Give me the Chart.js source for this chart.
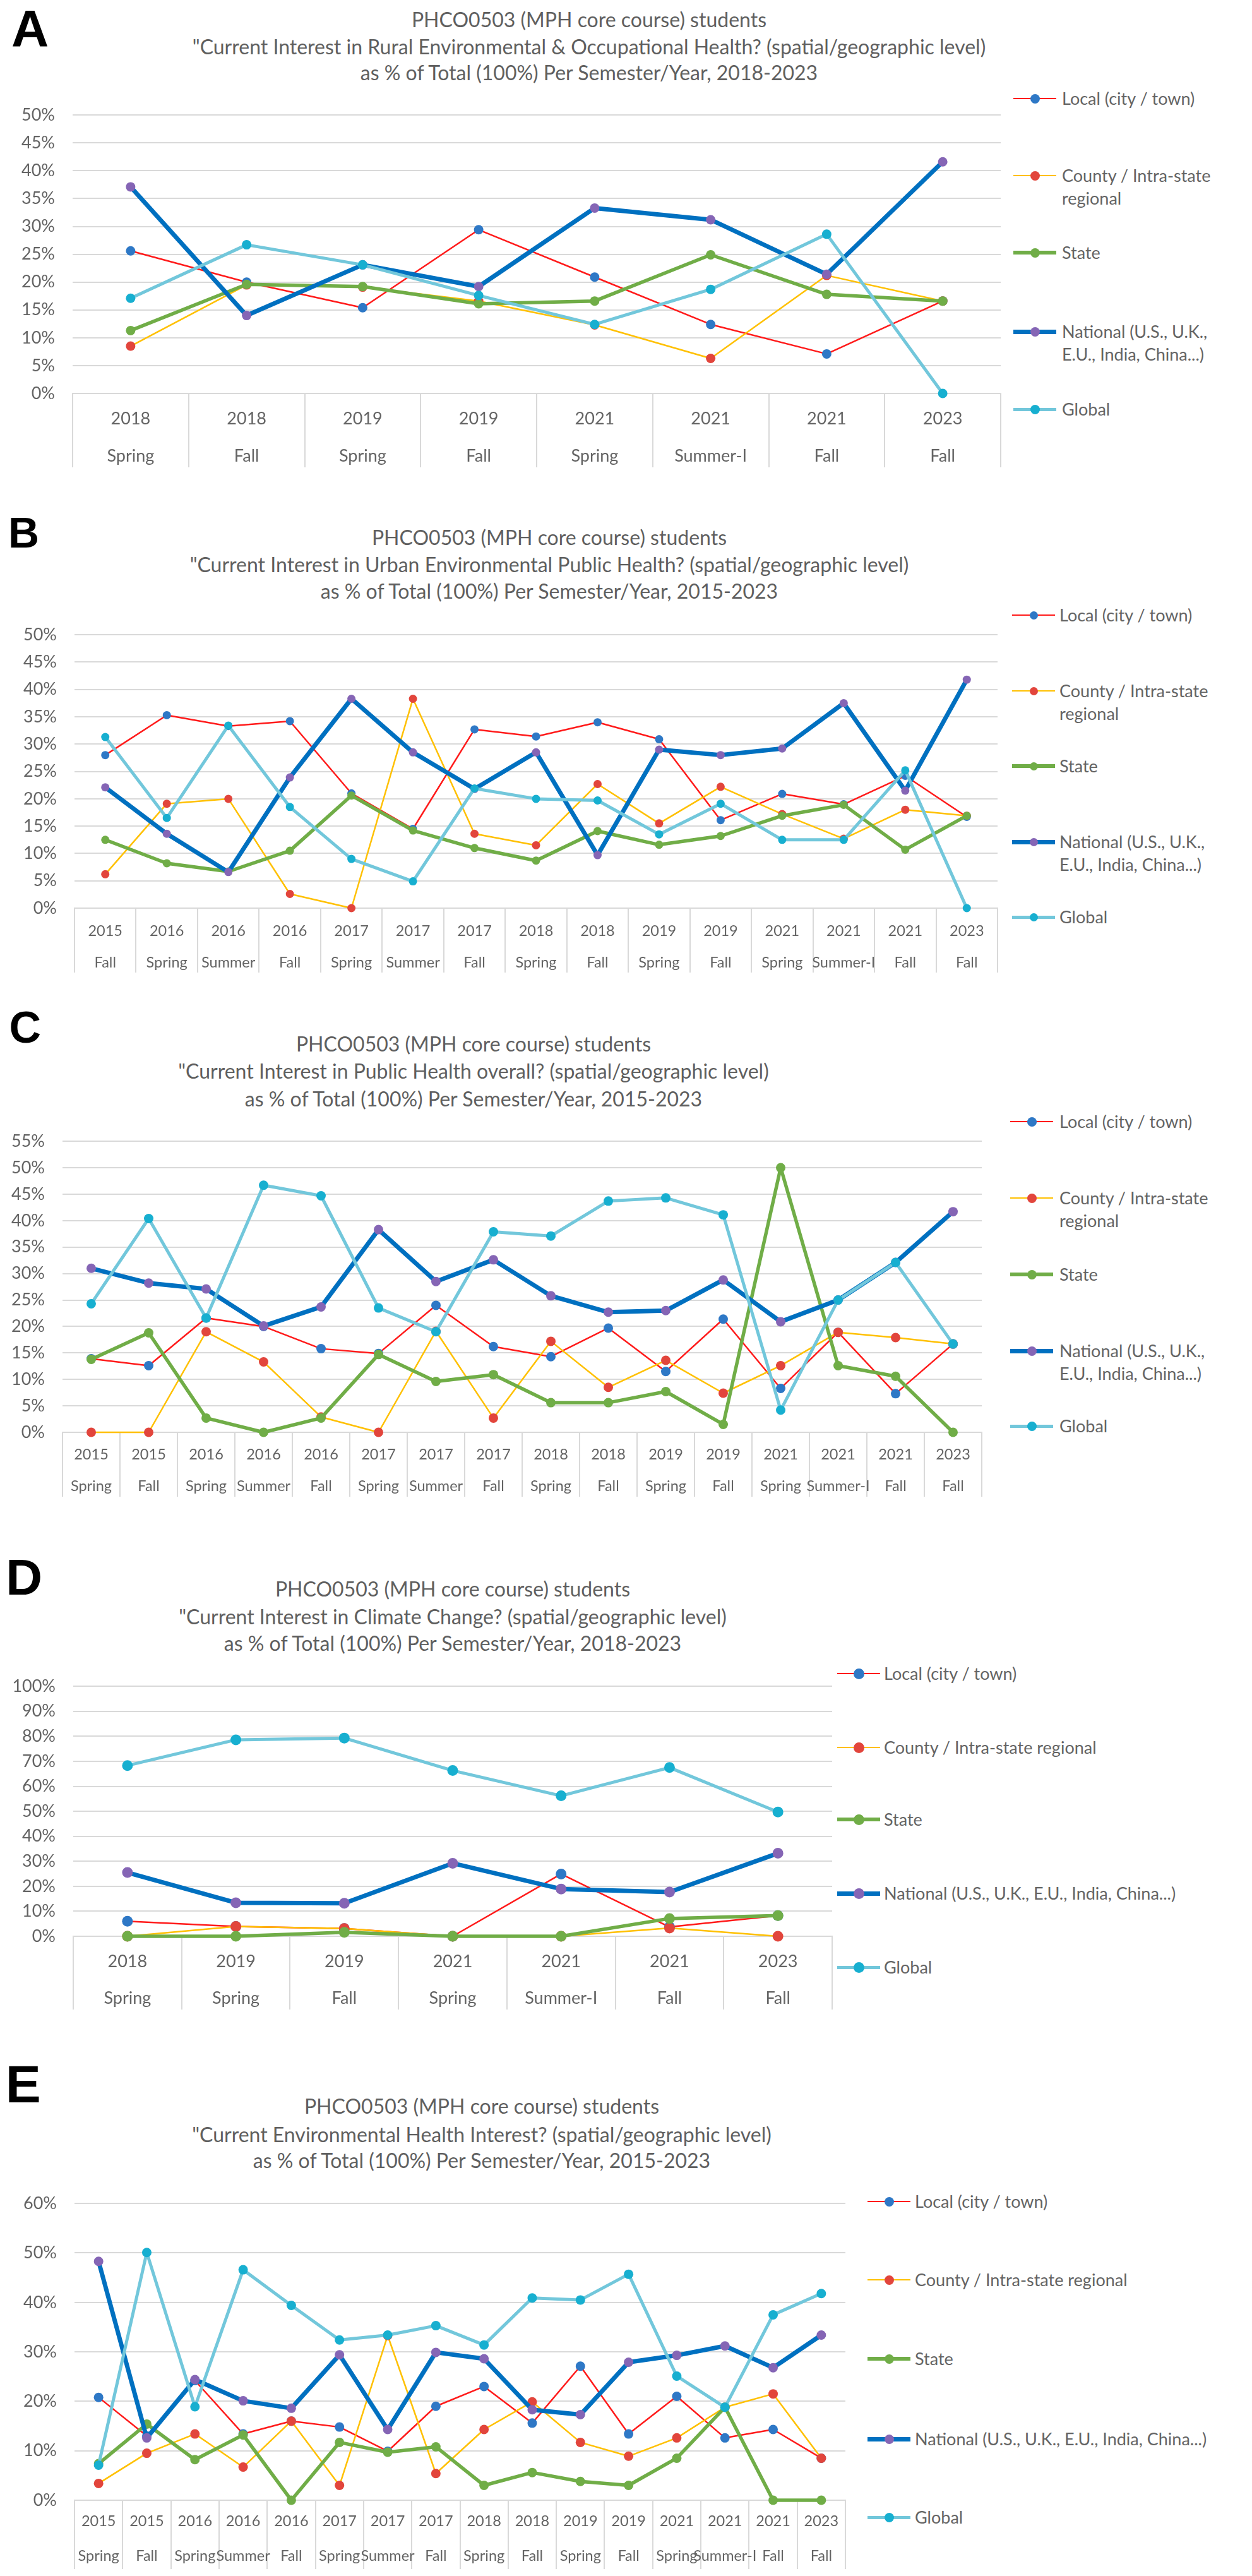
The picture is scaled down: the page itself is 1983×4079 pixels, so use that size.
<!DOCTYPE html>
<html>
<head>
<meta charset="utf-8">
<script src="https://cdn.jsdelivr.net/npm/chart.js@4.4.1/dist/chart.umd.min.js"></script>
<style>
  body { margin: 0; background: #fff; }
  #page { position: relative; width: 1983px; height: 4079px; overflow: hidden; font-family: Lato, sans-serif; color: #646464; }
  .letter { position: absolute; font-family: 'Liberation Sans', Arial, sans-serif; font-weight: bold; color: #000; line-height: 1; }
  .title { position: absolute; width: 1700px; text-align: center; font-size: 32px; line-height: 42px; color: #5f5f5f; white-space: nowrap; }
  .leg { position: absolute; height: 36px; }
  .leg .ln { position: absolute; left: 0; width: 68px; }
  .leg .dot { position: absolute; border-radius: 50%; }
  .leg .tx { position: absolute; font-size: 27px; line-height: 36px; white-space: nowrap; color: #646464; }
  canvas { position: absolute; left: 0; }
</style>
</head>
<body>
<div id="page"></div>
<script>
// ---- data (percent of total) ----
const catsA = [['2018','Spring'],['2018','Fall'],['2019','Spring'],['2019','Fall'],['2021','Spring'],['2021','Summer-I'],['2021','Fall'],['2023','Fall']];
const localA    = [25.6, 20.0, 15.4, 29.4, 20.9, 12.4, 7.1, 16.6];
const countyA   = [8.5, 19.5, 19.1, 16.6, 12.3, 6.3, 21.2, 16.6];
const stateA    = [11.3, 19.6, 19.2, 16.1, 16.6, 24.9, 17.8, 16.6];
const nationalA = [37.1, 14.0, 23.1, 19.2, 33.3, 31.2, 21.4, 41.6];
const globalA   = [17.1, 26.7, 23.1, 17.6, 12.4, 18.7, 28.6, 0];

const catsB = [['2015','Fall'],['2016','Spring'],['2016','Summer'],['2016','Fall'],['2017','Spring'],['2017','Summer'],['2017','Fall'],['2018','Spring'],['2018','Fall'],['2019','Spring'],['2019','Fall'],['2021','Spring'],['2021','Summer-I'],['2021','Fall'],['2023','Fall']];
const localB    = [28.0, 35.3, 33.3, 34.2, 21.0, 14.5, 32.7, 31.4, 34.0, 30.9, 16.1, 20.9, 19.0, 24.2, 16.7];
const countyB   = [6.2, 19.1, 20.0, 2.6, 0, 38.3, 13.6, 11.5, 22.7, 15.5, 22.2, 17.2, 12.7, 18.0, 16.9];
const stateB    = [12.5, 8.2, 6.7, 10.5, 20.6, 14.2, 11.0, 8.7, 14.1, 11.6, 13.2, 16.9, 18.9, 10.7, 16.9];
const nationalB = [22.1, 13.6, 6.6, 23.9, 38.3, 28.5, 21.8, 28.5, 9.7, 29.0, 28.0, 29.2, 37.5, 21.5, 41.8];
const globalB   = [31.3, 16.5, 33.4, 18.5, 9.0, 4.9, 21.9, 20.0, 19.7, 13.5, 19.1, 12.5, 12.5, 25.2, 0];

const catsC = [['2015','Spring'],['2015','Fall'],['2016','Spring'],['2016','Summer'],['2016','Fall'],['2017','Spring'],['2017','Summer'],['2017','Fall'],['2018','Spring'],['2018','Fall'],['2019','Spring'],['2019','Fall'],['2021','Spring'],['2021','Summer-I'],['2021','Fall'],['2023','Fall']];
const localC    = [13.9, 12.6, 21.6, 20.0, 15.8, 14.9, 24.0, 16.2, 14.3, 19.7, 11.5, 21.4, 8.3, 18.9, 7.3, 16.7];
const countyC   = [0, 0, 19.0, 13.3, 2.9, 0, 19.1, 2.7, 17.2, 8.5, 13.6, 7.4, 12.6, 18.9, 17.9, 16.7];
const stateC    = [13.8, 18.8, 2.7, 0, 2.7, 14.7, 9.6, 10.9, 5.6, 5.6, 7.7, 1.5, 50.0, 12.6, 10.6, 0];
const nationalC = [31.0, 28.2, 27.1, 20.1, 23.7, 38.3, 28.5, 32.6, 25.8, 22.7, 23.0, 28.8, 20.9, 25.0, 32.1, 41.7];
const globalC   = [24.3, 40.4, 21.6, 46.7, 44.7, 23.5, 19.0, 37.9, 37.1, 43.7, 44.3, 41.1, 4.2, 25.0, 32.1, 16.7];

const catsD = [['2018','Spring'],['2019','Spring'],['2019','Fall'],['2021','Spring'],['2021','Summer-I'],['2021','Fall'],['2023','Fall']];
const localD    = [6.0, 3.9, 3.1, 0, 24.9, 3.7, 8.3];
const countyD   = [0, 3.9, 3.1, 0, 0, 3.3, 0];
const stateD    = [0, 0, 1.6, 0, 0, 7.1, 8.3];
const nationalD = [25.5, 13.4, 13.2, 29.2, 18.9, 17.7, 33.2];
const globalD   = [68.3, 78.6, 79.3, 66.3, 56.2, 67.5, 49.7];

const catsE = [['2015','Spring'],['2015','Fall'],['2016','Spring'],['2016','Summer'],['2016','Fall'],['2017','Spring'],['2017','Summer'],['2017','Fall'],['2018','Spring'],['2018','Fall'],['2019','Spring'],['2019','Fall'],['2021','Spring'],['2021','Summer-I'],['2021','Fall'],['2023','Fall']];
const localE    = [20.8, 13.0, 24.2, 13.4, 16.0, 14.8, 9.9, 19.0, 23.0, 15.6, 27.1, 13.4, 21.0, 12.6, 14.3, 8.5];
const countyE   = [3.4, 9.5, 13.4, 6.7, 16.0, 3.0, 33.3, 5.4, 14.3, 19.9, 11.7, 8.9, 12.6, 18.8, 21.5, 8.5];
const stateE    = [7.4, 15.4, 8.2, 13.2, 0, 11.7, 9.7, 10.8, 3.0, 5.6, 3.8, 3.0, 8.5, 18.8, 0, 0];
const nationalE = [48.3, 12.6, 24.4, 20.1, 18.6, 29.4, 14.3, 29.9, 28.6, 18.3, 17.3, 27.9, 29.3, 31.2, 26.8, 33.4];
const globalE   = [7.1, 50.1, 18.9, 46.6, 39.4, 32.4, 33.4, 35.3, 31.4, 40.9, 40.5, 45.7, 25.1, 18.8, 37.5, 41.8];

const seriesNames = ['Local (city / town)', 'County / Intra-state regional', 'State', 'National (U.S., U.K., E.U., India, China...)', 'Global'];
const wrappedNames = ['Local (city / town)', 'County / Intra-state<br>regional', 'State', 'National (U.S., U.K.,<br>E.U., India, China...)', 'Global'];

// ---- styles ----
const lineColors  = ['#ff1a1a', '#ffc000', '#70ad47', '#0070c0', '#72c7db'];
const pointColors = ['#2e78c6', '#e2453c', '#70ad47', '#8565b5', '#17afd0'];
const lineWidths  = [2.5, 2.5, 5.5, 7, 5];
const gridColor = '#d9d9d9';
const textColor = '#646464';

const mainTitle = 'PHCO0503 (MPH core course) students';

const panels = [
  { letter: 'A', letterX: 18, letterTop: 15, letterSize: 82, bearing: 0,
    titleX: 933, titleY: [31, 74, 115],
    title: [mainTitle, '"Current Interest in Rural Environmental & Occupational Health? (spatial/geographic level)', 'as % of Total (100%) Per Semester/Year, 2018-2023'],
    left: 115, right: 1585, top: 168, bottom: 623, boxBottom: 740,
    yMax: 50, yStep: 5, labelSize: 27, firstLine: 40, lineGap: 59,
    legX: 1605, legTextX: 1682, legY: [156, 278, 400, 525, 648], legNames: wrappedNames,
    cats: catsA, series: [localA, countyA, stateA, nationalA, globalA], r: 7.5 },
  { letter: 'B', letterX: 18, letterTop: 818, letterSize: 68, bearing: 0.073,
    titleX: 870, titleY: [851, 894, 936],
    title: [mainTitle, '"Current Interest in Urban Environmental Public Health? (spatial/geographic level)', 'as % of Total (100%) Per Semester/Year, 2015-2023'],
    left: 118, right: 1580, top: 991, bottom: 1438, boxBottom: 1540,
    yMax: 50, yStep: 5, labelSize: 23.5, firstLine: 36, lineGap: 50,
    legX: 1603, legTextX: 1678, legY: [974, 1094, 1213, 1333, 1452], legNames: wrappedNames,
    cats: catsB, series: [localB, countyB, stateB, nationalB, globalB], r: 6.5 },
  { letter: 'C', letterX: 18, letterTop: 1601, letterSize: 70, bearing: 0.05,
    titleX: 750, titleY: [1653, 1696, 1740],
    title: [mainTitle, '"Current Interest in Public Health overall? (spatial/geographic level)', 'as % of Total (100%) Per Semester/Year, 2015-2023'],
    left: 99, right: 1555, top: 1793, bottom: 2268, boxBottom: 2370,
    yMax: 55, yStep: 5, labelSize: 23.5, firstLine: 35, lineGap: 50,
    legX: 1600, legTextX: 1678, legY: [1776, 1897, 2018, 2139, 2258], legNames: wrappedNames,
    cats: catsC, series: [localC, countyC, stateC, nationalC, globalC], r: 7.5 },
  { letter: 'D', letterX: 15, letterTop: 2468, letterSize: 80, bearing: 0.073,
    titleX: 717, titleY: [2516, 2560, 2602],
    title: [mainTitle, '"Current Interest in Climate Change? (spatial/geographic level)', 'as % of Total (100%) Per Semester/Year, 2018-2023'],
    left: 116, right: 1318, top: 2656, bottom: 3066, boxBottom: 3182,
    yMax: 100, yStep: 10, labelSize: 27, firstLine: 40, lineGap: 58,
    legX: 1326, legTextX: 1400, legY: [2650, 2767, 2881, 2998, 3115], legNames: seriesNames,
    cats: catsD, series: [localD, countyD, stateD, nationalD, globalD], r: 8.5 },
  { letter: 'E', letterX: 15, letterTop: 3269, letterSize: 84, bearing: 0.073,
    titleX: 763, titleY: [3335, 3380, 3421],
    title: [mainTitle, '"Current Environmental Health Interest? (spatial/geographic level)', 'as % of Total (100%) Per Semester/Year, 2015-2023'],
    left: 118, right: 1339, top: 3475, bottom: 3959, boxBottom: 4068,
    yMax: 60, yStep: 10, labelSize: 23.5, firstLine: 33, lineGap: 55,
    legX: 1374, legTextX: 1449, legY: [3486, 3610, 3735, 3862, 3986], legNames: seriesNames,
    cats: catsE, series: [localE, countyE, stateE, nationalE, globalE], r: 7.5 },
];

Chart.defaults.font.family = 'Lato, sans-serif';
Chart.defaults.color = textColor;

const page = document.getElementById('page');

function el(cls, parent) {
  const d = document.createElement('div');
  if (cls) d.className = cls;
  (parent || page).appendChild(d);
  return d;
}

panels.forEach(p => {
  // panel letter
  const L = el('letter');
  L.textContent = p.letter;
  L.style.fontSize = p.letterSize + 'px';
  L.style.left = (p.letterX - p.bearing * p.letterSize) + 'px';
  L.style.top = (p.letterTop - 0.13 * p.letterSize) + 'px';

  // title lines
  p.title.forEach((t, i) => {
    const d = el('title');
    d.textContent = t;
    d.style.left = (p.titleX - 850) + 'px';
    d.style.top = (p.titleY[i] - 21) + 'px';
  });

  // legend
  p.legNames.forEach((n, i) => {
    const item = el('leg');
    item.style.left = p.legX + 'px';
    item.style.top = (p.legY[i] - 18) + 'px';
    const ln = el('ln', item);
    ln.style.background = lineColors[i];
    ln.style.height = lineWidths[i] + 'px';
    ln.style.top = (18 - lineWidths[i] / 2) + 'px';
    const dot = el('dot', item);
    dot.style.background = pointColors[i];
    dot.style.width = dot.style.height = (2 * p.r) + 'px';
    dot.style.left = (34 - p.r) + 'px';
    dot.style.top = (18 - p.r) + 'px';
    const tx = el('tx', item);
    tx.style.left = (p.legTextX - p.legX) + 'px';
    tx.innerHTML = n;
  });

  // chart canvas
  const padTop = 30;
  const cTop = p.top - padTop;
  const cH = p.boxBottom + 6 - cTop;
  const cW = p.right + 20;
  const cv = document.createElement('canvas');
  cv.width = cW; cv.height = cH;
  cv.style.width = cW + 'px'; cv.style.height = cH + 'px';
  cv.style.top = cTop + 'px';
  page.appendChild(cv);

  const tl = p.boxBottom - p.bottom;

  new Chart(cv, {
    type: 'line',
    data: {
      labels: p.cats,
      datasets: p.series.map((d, i) => ({
        label: seriesNames[i],
        data: d,
        borderColor: lineColors[i],
        backgroundColor: pointColors[i],
        pointBackgroundColor: pointColors[i],
        pointBorderColor: pointColors[i],
        pointBorderWidth: 0,
        pointRadius: p.r,
        borderWidth: lineWidths[i],
        borderJoinStyle: 'round',
        borderCapStyle: 'round',
        tension: 0,
        fill: false,
        clip: false,
        order: 5 - i
      }))
    },
    options: {
      responsive: false,
      animation: false,
      devicePixelRatio: 1,
      layout: { padding: { top: padTop, right: 20, left: 0, bottom: 0 } },
      plugins: { legend: { display: false }, title: { display: false }, tooltip: { enabled: false } },
      scales: {
        x: {
          offset: true,
          grid: { offset: true, drawOnChartArea: false, drawTicks: true, tickLength: tl, color: gridColor, lineWidth: 2 },
          border: { display: true, color: gridColor, width: 2 },
          ticks: {
            autoSkip: false, maxRotation: 0, minRotation: 0, color: textColor,
            font: { size: p.labelSize, lineHeight: p.lineGap / p.labelSize },
            padding: p.firstLine - tl - p.lineGap / 2
          },
          afterFit: s => { s.height = p.boxBottom + 6 - p.bottom; }
        },
        y: {
          min: 0, max: p.yMax,
          ticks: { stepSize: p.yStep, padding: 28, color: textColor, font: { size: 27 }, callback: v => Math.round(v) + '%' },
          grid: { color: gridColor, lineWidth: 2, drawTicks: false },
          border: { display: false },
          afterFit: s => { s.width = p.left; }
        }
      }
    }
  });
});
</script>
</body>
</html>
